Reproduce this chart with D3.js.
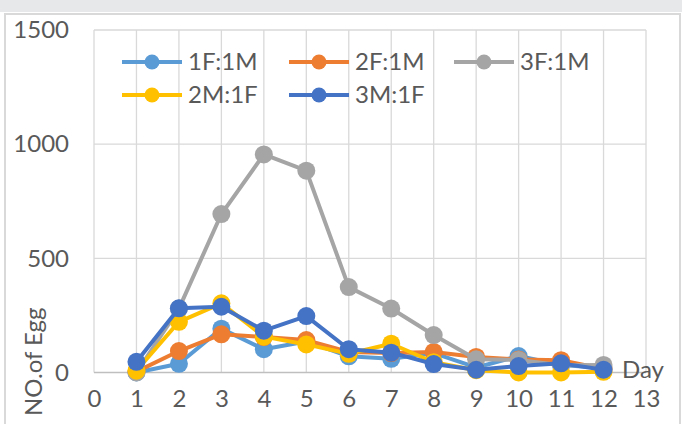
<!DOCTYPE html>
<html><head><meta charset="utf-8">
<script src="https://cdn.jsdelivr.net/npm/d3@7/dist/d3.min.js"></script>
<style>body{margin:0;background:#fff;}svg{display:block;}</style>
</head><body><svg id="c" width="682" height="424"></svg>
<script>
const days = [1,2,3,4,5,6,7,8,9,10,11,12];
const seriesNames = ["1F:1M","2F:1M","3F:1M","2M:1F","3M:1F"];
const seriesColors = ["#5B9BD5","#ED7D31","#A5A5A5","#FFC000","#4472C4"];
const v1F1M = [0,38,192,102,136,71,60,85,22,72,33,20];
const v2F1M = [4,94,167,155,142,90,85,90,68,57,54,15];
const v3F1M = [0,280,694,955,884,374,280,164,58,55,32,33];
const v2M1F = [8,222,303,157,123,82,126,45,10,0,0,3];
const v3M1F = [47,281,288,183,247,102,87,37,12,28,40,12];
const xTicks = [0,1,2,3,4,5,6,7,8,9,10,11,12,13];
const yTicks = [0,500,1000,1500];
const allValues = [v1F1M,v2F1M,v3F1M,v2M1F,v3M1F];

const svg = d3.select("#c");
const font = "Lato, 'Liberation Sans', sans-serif";
// background frame
svg.append("rect").attr("x",0).attr("y",0).attr("width",682).attr("height",12).attr("fill","#e7e8ea");
svg.append("rect").attr("x",5).attr("y",14).attr("width",675).attr("height",420)
  .attr("fill","#fff").attr("stroke","#d9d9d9").attr("stroke-width",2);

const L=94, R=646, T=30, B=372.5;
const x = d3.scaleLinear().domain([0,13]).range([L,R]);
const y = d3.scaleLinear().domain([0,1500]).range([B,T]);

const g = svg.append("g");
// grid
g.selectAll(".vg").data(xTicks).join("line")
  .attr("x1",d=>x(d)).attr("x2",d=>x(d)).attr("y1",T).attr("y2",B)
  .attr("stroke","#d9d9d9").attr("stroke-width",1.3);
g.selectAll(".hg").data(yTicks).join("line")
  .attr("x1",L).attr("x2",R).attr("y1",d=>y(d)).attr("y2",d=>y(d))
  .attr("stroke",d=>d===0?"#bfbfbf":"#d9d9d9").attr("stroke-width",1.3);

// axes via d3 axis generators
const xAxis = d3.axisBottom(x).tickValues(xTicks).tickSize(0).tickPadding(0).tickFormat(d3.format("d"));
const ax = svg.append("g").attr("transform",`translate(0,${B+27})`).call(xAxis);
ax.select(".domain").remove();
ax.selectAll("text").attr("font-family",font).attr("font-size",24).attr("fill","#595959").attr("dy","0.32em");

const yAxis = d3.axisLeft(y).tickValues(yTicks).tickSize(0).tickPadding(0).tickFormat(d3.format("d"));
const ay = svg.append("g").attr("transform",`translate(69,0)`).call(yAxis);
ay.select(".domain").remove();
ay.selectAll("text").attr("font-family",font).attr("font-size",24).attr("fill","#595959").attr("dy","0.32em");

// series
const line = d3.line().x((d,i)=>x(days[i])).y(d=>y(d));
allValues.forEach((vals,si)=>{
  const sg = svg.append("g");
  sg.append("path").datum(vals).attr("d",line).attr("fill","none")
    .attr("stroke",seriesColors[si]).attr("stroke-width",4).attr("stroke-linejoin","round");
  sg.selectAll("circle").data(vals).join("circle")
    .attr("cx",(d,i)=>x(days[i])).attr("cy",d=>y(d)).attr("r",9).attr("fill",seriesColors[si]);
});

// axis titles
svg.append("text").attr("x",622).attr("y",370).attr("dy","0.35em")
  .attr("font-family",font).attr("font-size",24).attr("fill","#595959").text("Day");
svg.append("text").attr("transform","translate(42,416) rotate(-90)")
  .attr("font-family",font).attr("font-size",24).attr("fill","#595959").text("NO.of Egg");

// legend
const legPos = [[122,62],[289,62],[454,62],[122,95],[289,95]];
seriesNames.forEach((n,i)=>{
  const [lx,ly]=legPos[i];
  const lg = svg.append("g").attr("transform",`translate(${lx},${ly})`);
  lg.append("line").attr("x1",0).attr("x2",60).attr("y1",0).attr("y2",0)
    .attr("stroke",seriesColors[i]).attr("stroke-width",4);
  lg.append("circle").attr("cx",30).attr("cy",0).attr("r",7.5).attr("fill",seriesColors[i]);
  lg.append("text").attr("x",66).attr("y",0).attr("dy","0.35em")
    .attr("font-family",font).attr("font-size",24).attr("fill","#595959").text(n);
});
</script></body></html>
